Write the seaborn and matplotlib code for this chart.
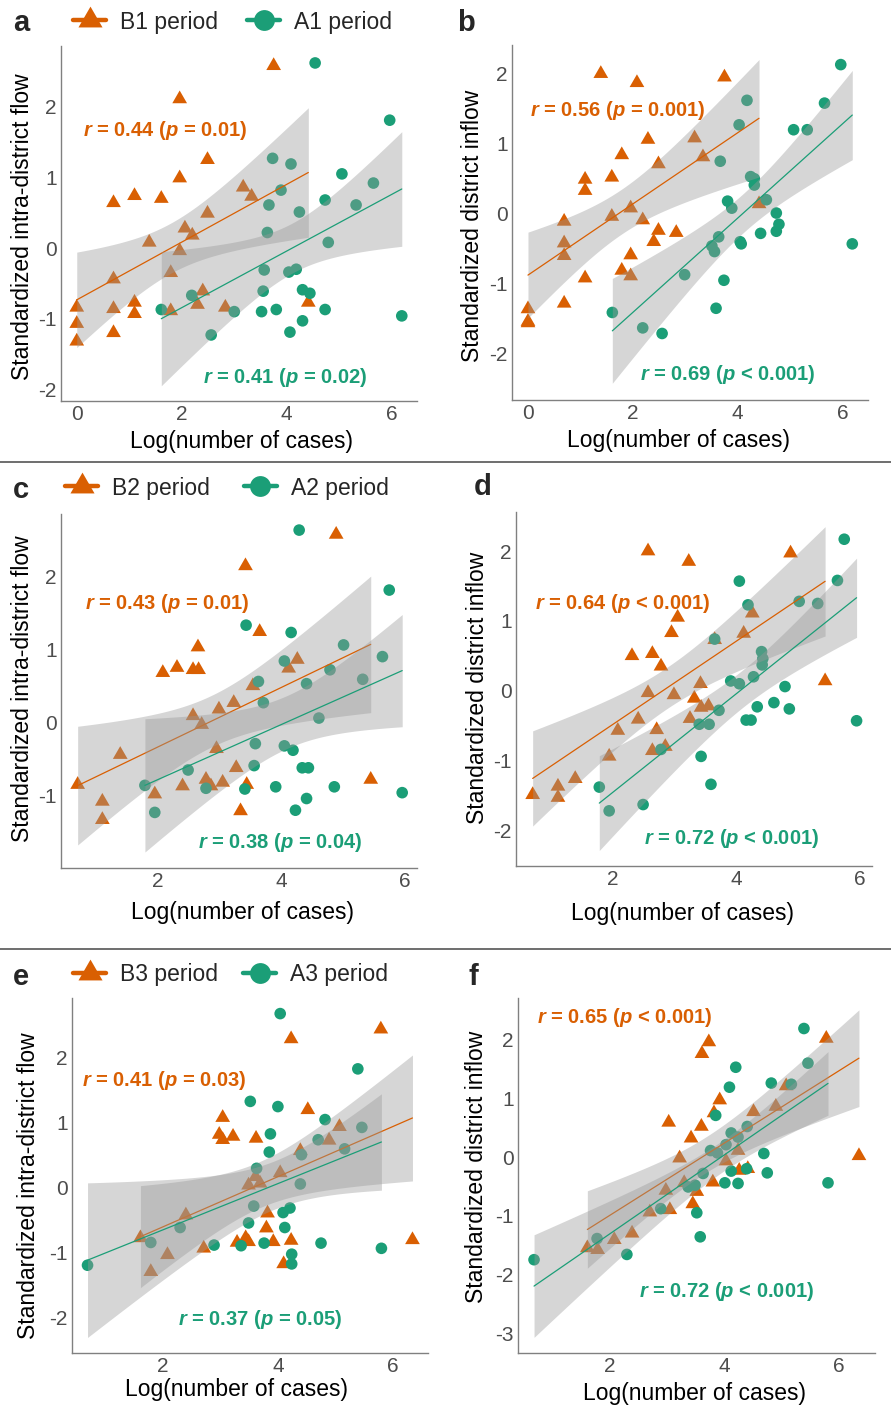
import numpy as np
import pandas as pd
import matplotlib
matplotlib.use("Agg")
import matplotlib.pyplot as plt
import seaborn as sns
from matplotlib.lines import Line2D

# ---------------- data ----------------
# panel a : intra-district flow, B1 / A1
a_b_x = [3.75, 1.96, 2.49, 1.96, 0.70, 1.10, 1.61, 3.17, 3.33, 2.49, 2.06, 2.20, 1.38, 1.96, 1.79, 0.70, 0.00, 0.00, 0.00, 0.70, 0.70, 1.10, 1.10, 1.79, 2.40, 2.30, 2.83, 4.41]
a_b_y = [2.58, 2.11, 1.25, 0.99, 0.64, 0.74, 0.70, 0.86, 0.73, 0.49, 0.28, 0.18, 0.08, -0.04, -0.35, -0.44, -0.84, -1.07, -1.32, -0.86, -1.20, -0.77, -0.93, -0.89, -0.61, -0.80, -0.84, -0.77]
a_a_x = [4.54, 5.96, 3.73, 4.08, 5.05, 3.89, 5.65, 4.73, 3.66, 5.32, 4.24, 3.63, 4.79, 3.57, 4.04, 4.18, 3.55, 4.30, 4.44, 2.19, 1.61, 3.00, 3.52, 3.80, 4.73, 4.30, 4.06, 2.56, 6.19]
a_a_y = [2.62, 1.81, 1.27, 1.19, 1.05, 0.82, 0.92, 0.68, 0.61, 0.61, 0.51, 0.22, 0.08, -0.31, -0.34, -0.30, -0.61, -0.59, -0.64, -0.67, -0.87, -0.90, -0.90, -0.87, -0.87, -1.03, -1.19, -1.23, -0.96]
# panel b : district inflow, B1 / A1
b_b_x = [1.39, 2.08, 3.75, 2.29, 3.18, 1.79, 3.34, 2.49, 1.09, 1.09, 1.60, 1.96, 1.60, 0.69, 2.19, 2.49, 2.83, 2.40, 0.69, 0.69, 1.96, 1.79, 1.96, 1.09, 0.69, 0.00, 0.00, 0.00, 4.41]
b_b_y = [1.99, 1.86, 1.94, 1.05, 1.07, 0.83, 0.80, 0.70, 0.48, 0.32, 0.51, 0.07, -0.05, -0.12, -0.10, -0.25, -0.28, -0.41, -0.43, -0.61, -0.60, -0.82, -0.90, -0.93, -1.29, -1.37, -1.55, -1.57, 0.13]
b_a_x = [5.97, 5.66, 4.18, 4.03, 5.07, 5.33, 3.67, 4.25, 4.32, 4.32, 4.55, 3.81, 3.89, 4.74, 4.79, 4.74, 4.44, 3.64, 4.05, 4.07, 3.51, 3.56, 6.19, 2.99, 3.74, 3.59, 1.61, 2.19, 2.56]
b_a_y = [2.12, 1.57, 1.61, 1.26, 1.19, 1.19, 0.74, 0.52, 0.40, 0.49, 0.19, 0.17, 0.07, 0.00, -0.16, -0.26, -0.29, -0.34, -0.41, -0.44, -0.47, -0.55, -0.44, -0.88, -0.96, -1.36, -1.42, -1.64, -1.72]
# panel c : intra-district flow, B2 / A2
c_b_x = [4.89, 3.42, 3.65, 2.65, 2.08, 2.31, 2.57, 2.66, 4.26, 4.12, 3.54, 3.23, 2.99, 2.57, 2.71, 1.39, 2.95, 3.27, 0.70, 1.10, 1.10, 1.95, 2.40, 2.78, 2.86, 3.05, 3.44, 3.34, 5.45]
c_b_y = [2.57, 2.14, 1.24, 1.03, 0.68, 0.75, 0.72, 0.72, 0.86, 0.74, 0.50, 0.27, 0.18, 0.09, -0.03, -0.44, -0.36, -0.62, -0.85, -1.08, -1.33, -0.98, -0.87, -0.78, -0.87, -0.82, -0.85, -1.21, -0.78]
c_a_x = [4.29, 5.75, 3.43, 4.16, 5.01, 4.05, 5.64, 4.79, 3.63, 4.41, 5.32, 3.71, 4.61, 3.58, 4.05, 4.19, 3.56, 4.34, 4.44, 2.49, 1.79, 2.78, 3.41, 3.91, 4.86, 4.41, 4.23, 1.95, 5.96]
c_a_y = [2.63, 1.81, 1.33, 1.23, 1.06, 0.84, 0.90, 0.72, 0.56, 0.53, 0.59, 0.27, 0.06, -0.29, -0.32, -0.38, -0.59, -0.62, -0.62, -0.65, -0.86, -0.90, -0.91, -0.88, -0.88, -1.04, -1.20, -1.23, -0.96]
# panel d : district inflow, B2 / A2
d_b_x = [2.57, 3.23, 4.88, 3.05, 4.26, 2.95, 4.12, 3.65, 2.31, 2.64, 2.78, 3.42, 5.44, 2.57, 2.99, 3.32, 3.43, 3.55, 2.41, 3.25, 2.08, 2.71, 2.85, 2.64, 1.94, 1.39, 1.11, 1.11, 0.70]
d_b_y = [2.00, 1.85, 1.97, 1.05, 1.11, 0.83, 0.82, 0.73, 0.50, 0.53, 0.35, 0.10, 0.14, -0.03, -0.06, -0.11, -0.24, -0.22, -0.41, -0.40, -0.57, -0.56, -0.80, -0.86, -0.94, -1.26, -1.37, -1.53, -1.49]
d_a_x = [5.75, 5.64, 4.05, 4.19, 5.02, 5.32, 3.65, 4.41, 4.43, 4.42, 4.28, 3.91, 4.05, 4.79, 4.61, 4.34, 4.86, 3.72, 4.16, 4.24, 3.40, 3.56, 5.95, 2.78, 3.43, 3.59, 1.78, 2.49, 1.94]
d_a_y = [2.17, 1.58, 1.57, 1.23, 1.28, 1.25, 0.74, 0.56, 0.46, 0.37, 0.20, 0.14, 0.10, 0.06, -0.17, -0.23, -0.26, -0.28, -0.42, -0.42, -0.48, -0.48, -0.43, -0.84, -0.94, -1.34, -1.38, -1.63, -1.72]
# panel e : intra-district flow, B3 / A3
e_b_x = [5.79, 4.23, 4.52, 3.04, 2.98, 3.04, 3.22, 3.62, 5.07, 4.89, 4.39, 4.04, 3.61, 3.49, 3.69, 2.40, 3.82, 3.80, 1.61, 2.08, 1.79, 2.71, 3.29, 3.44, 3.49, 3.92, 4.23, 4.10, 6.34]
e_b_y = [2.43, 2.28, 1.19, 1.07, 0.81, 0.73, 0.78, 0.75, 0.93, 0.72, 0.56, 0.22, 0.16, 0.03, 0.06, -0.43, -0.40, -0.63, -0.78, -1.04, -1.30, -0.94, -0.85, -0.78, -0.84, -0.84, -0.82, -1.18, -0.81]
e_a_x = [4.04, 5.39, 3.52, 4.00, 4.82, 3.87, 3.85, 4.70, 5.46, 5.16, 4.41, 3.63, 4.39, 3.58, 4.09, 4.21, 3.49, 4.12, 2.30, 1.79, 2.89, 3.36, 3.76, 4.75, 4.24, 4.24, 0.69, 5.80]
e_a_y = [2.67, 1.82, 1.32, 1.24, 1.04, 0.82, 0.54, 0.73, 0.92, 0.59, 0.50, 0.29, 0.05, -0.29, -0.39, -0.32, -0.55, -0.62, -0.62, -0.85, -0.89, -0.90, -0.86, -0.86, -1.03, -1.18, -1.20, -0.94]
# panel f : district inflow, B3 / A3
f_b_x = [5.78, 3.73, 3.61, 6.35, 3.92, 3.82, 3.03, 3.60, 3.42, 4.51, 4.90, 5.08, 4.24, 3.22, 4.03, 4.26, 4.41, 3.30, 3.80, 3.52, 2.98, 3.45, 3.05, 2.70, 2.39, 2.08, 1.61, 1.79]
f_b_y = [2.02, 1.96, 1.76, 0.02, 0.97, 0.75, 0.59, 0.52, 0.32, 0.77, 0.86, 1.21, 0.11, -0.02, -0.07, -0.23, -0.20, -0.44, -0.43, -0.59, -0.57, -0.80, -0.90, -0.94, -1.30, -1.41, -1.55, -1.58]
f_a_x = [5.39, 5.46, 4.20, 4.09, 4.82, 5.17, 3.85, 4.40, 4.12, 4.24, 4.03, 3.76, 3.88, 4.69, 4.12, 4.39, 4.75, 3.63, 4.01, 4.24, 3.37, 3.49, 5.81, 2.89, 3.52, 3.58, 1.78, 2.30, 0.68]
f_a_y = [2.19, 1.60, 1.53, 1.19, 1.26, 1.24, 0.71, 0.52, 0.41, 0.34, 0.21, 0.11, 0.07, 0.06, -0.24, -0.20, -0.27, -0.28, -0.44, -0.45, -0.51, -0.48, -0.44, -0.88, -0.95, -1.36, -1.39, -1.66, -1.75]

panel_letters = ["a", "b", "c", "d", "e", "f"]
b_labels = ["B1 period", "B2 period", "B3 period"]
a_labels = ["A1 period", "A2 period", "A3 period"]
y_titles = ["Standardized intra-district flow", "Standardized district inflow"]
x_title = "Log(number of cases)"
b_stats = ["0.44 ($\\mathit{p}$ = 0.01)", "0.56 ($\\mathit{p}$ = 0.001)",
           "0.43 ($\\mathit{p}$ = 0.01)", "0.64 ($\\mathit{p}$ < 0.001)",
           "0.41 ($\\mathit{p}$ = 0.03)", "0.65 ($\\mathit{p}$ < 0.001)"]
a_stats = ["0.41 ($\\mathit{p}$ = 0.02)", "0.69 ($\\mathit{p}$ < 0.001)",
           "0.38 ($\\mathit{p}$ = 0.04)", "0.72 ($\\mathit{p}$ < 0.001)",
           "0.37 ($\\mathit{p}$ = 0.05)", "0.72 ($\\mathit{p}$ < 0.001)"]

# ---------------- style ----------------
sns.set_theme(style="white")
plt.rcParams['font.family'] = ['Liberation Sans', 'DejaVu Sans']
plt.rcParams['mathtext.fontset'] = 'custom'
plt.rcParams['mathtext.it'] = 'Liberation Sans:italic:bold'
plt.rcParams['mathtext.rm'] = 'Liberation Sans:bold'
plt.rcParams['mathtext.bf'] = 'Liberation Sans:bold'

ORANGE = '#D95F02'
GREEN = '#1B9E77'
TRI = [(0, 1), (-0.866, -0.5), (0.866, -0.5)]

W, H = 891, 1407
fig = plt.figure(figsize=(W / 100, H / 100), dpi=100)

# layout: (left, right, top, bottom) pixels, xlim, ylim, yticks, annotation positions, label coords
layout = [
    dict(box=(61, 417, 46, 401), xlim=(-0.30, 6.48), ylim=(-2.165, 2.86), yt=[-2, -1, 0, 1, 2], xt=[0, 2, 4, 6],
         tb=(0.12, 1.66), ta=(2.41, -1.83), xl=(0.508, -0.115), yl=(-0.107, 0.49)),
    dict(box=(512, 868, 45, 400), xlim=(-0.305, 6.49), ylim=(-2.67, 2.40), yt=[-2, -1, 0, 1, 2], xt=[0, 2, 4, 6],
         tb=(0.04, 1.46), ta=(2.14, -2.31), xl=(0.468, -0.113), yl=(-0.11, 0.49)),
    dict(box=(61, 417, 514, 868), xlim=(0.43, 6.2), ylim=(-1.99, 2.85), yt=[-1, 0, 1, 2], xt=[2, 4, 6],
         tb=(0.82, 1.63), ta=(2.65, -1.645), xl=(0.51, -0.127), yl=(-0.107, 0.506)),
    dict(box=(516, 872, 512, 866), xlim=(0.43, 6.2), ylim=(-2.51, 2.56), yt=[-2, -1, 0, 1, 2], xt=[2, 4, 6],
         tb=(0.74, 1.25), ta=(2.51, -2.12), xl=(0.468, -0.133), yl=(-0.108, 0.503)),
    dict(box=(72, 428, 998, 1353), xlim=(0.42, 6.61), ylim=(-2.55, 2.91), yt=[-2, -1, 0, 1, 2], xt=[2, 4, 6],
         tb=(0.60, 1.64), ta=(2.27, -2.04), xl=(0.463, -0.104), yl=(-0.121, 0.47)),
    dict(box=(518, 875, 998, 1353), xlim=(0.40, 6.63), ylim=(-3.34, 2.71), yt=[-3, -2, -1, 0, 1, 2], xt=[2, 4, 6],
         tb=(0.74, 2.37), ta=(2.51, -2.29), xl=(0.493, -0.113), yl=(-0.115, 0.524)),
]

data = [
    (a_b_x, a_b_y, a_a_x, a_a_y), (b_b_x, b_b_y, b_a_x, b_a_y),
    (c_b_x, c_b_y, c_a_x, c_a_y), (d_b_x, d_b_y, d_a_x, d_a_y),
    (e_b_x, e_b_y, e_a_x, e_a_y), (f_b_x, f_b_y, f_a_x, f_a_y),
]


def tcrit(df):
    z = 1.959964
    g1 = (z ** 3 + z) / 4
    g2 = (5 * z ** 5 + 16 * z ** 3 + 3 * z) / 96
    g3 = (3 * z ** 7 + 19 * z ** 5 + 17 * z ** 3 - 15 * z) / 384
    return z + g1 / df + g2 / df ** 2 + g3 / df ** 3


def band(x, y):
    x = np.asarray(x, float)
    y = np.asarray(y, float)
    b1, b0 = np.polyfit(x, y, 1)
    xs = np.linspace(x.min(), x.max(), 120)
    yhat = b0 + b1 * xs
    res = y - (b0 + b1 * x)
    n = len(x)
    s = np.sqrt((res ** 2).sum() / (n - 2))
    se = s * np.sqrt(1 / n + (xs - x.mean()) ** 2 / ((x - x.mean()) ** 2).sum())
    t = tcrit(n - 2)
    return xs, yhat - t * se, yhat + t * se


for i, (lay, (bx, by, ax_, ay)) in enumerate(zip(layout, data)):
    l, r, t, b = lay['box']
    ax = fig.add_axes([l / W, 1 - b / H, (r - l) / W, (b - t) / H])
    dfb = pd.DataFrame({'x': bx, 'y': by})
    dfa = pd.DataFrame({'x': ax_, 'y': ay})
    sns.scatterplot(data=dfb, x='x', y='y', ax=ax, color=ORANGE, marker=TRI, s=150,
                    linewidth=0, edgecolor='none', zorder=2)
    sns.scatterplot(data=dfa, x='x', y='y', ax=ax, color=GREEN, marker='o', s=70,
                    linewidth=0, edgecolor='none', zorder=2)
    z = 3
    for (gx, gy, col) in [(bx, by, ORANGE), (ax_, ay, GREEN)]:
        xs, lo, hi = band(gx, gy)
        ax.fill_between(xs, lo, hi, color='#999999', alpha=0.4, linewidth=0, zorder=z)
        sns.regplot(x=np.asarray(gx), y=np.asarray(gy), ax=ax, scatter=False, ci=None, truncate=True,
                    color=col, line_kws=dict(lw=0.9, zorder=z + 1))
        z += 2
    ax.set_xlim(*lay['xlim'])
    ax.set_ylim(*lay['ylim'])
    ax.set_xticks(lay['xt'])
    ax.set_yticks(lay['yt'])
    ax.set_xticklabels([str(v) for v in lay['xt']])
    ax.set_yticklabels([str(v) for v in lay['yt']])
    ax.tick_params(axis='both', length=0, labelsize=15, labelcolor='#4D4D4D', pad=3)
    for sp in ['top', 'right']:
        ax.spines[sp].set_visible(False)
    for sp in ['left', 'bottom']:
        ax.spines[sp].set_color('#808080')
        ax.spines[sp].set_linewidth(1.0)
    ax.set_xlabel(x_title, fontsize=16.5, color='black')
    ax.set_ylabel(y_titles[i % 2], fontsize=16.5, color='black')
    ax.xaxis.set_label_coords(*lay['xl'])
    ax.yaxis.set_label_coords(*lay['yl'])
    ax.xaxis.label.set_va('center')
    ax.yaxis.label.set_va('center')
    ax.grid(False)
    ax.set_facecolor('none')
    ax.text(lay['tb'][0], lay['tb'][1], "$\\mathit{r}$ = " + b_stats[i], color=ORANGE, fontsize=14.5,
            fontweight='bold', ha='left', va='center', zorder=10)
    ax.text(lay['ta'][0], lay['ta'][1], "$\\mathit{r}$ = " + a_stats[i], color=GREEN, fontsize=14.5,
            fontweight='bold', ha='left', va='center', zorder=10)

# panel letters
letter_pos = [(21, 23), (466, 23), (21, 490), (483, 487), (21, 977), (473, 977)]
for letter, (px, py) in zip(panel_letters, letter_pos):
    fig.text(px / W, 1 - py / H, letter, fontsize=21, fontweight='bold', ha='center', va='center')

# legends
leg_rows = [(73, 22, 29), (65, 488, 34), (73, 975, 25)]
for k, (lx, ly, cs) in enumerate(leg_rows):
    h1 = Line2D([], [], color=ORANGE, lw=3.2, marker=TRI, markersize=20, markeredgewidth=0)
    h2 = Line2D([], [], color=GREEN, lw=3.2, marker='o', markersize=15, markeredgewidth=0)
    fig.legend([h1, h2], [b_labels[k], a_labels[k]], loc='center left',
               bbox_to_anchor=(lx / W, 1 - ly / H), ncol=2, frameon=False, fontsize=16.5,
               handlelength=1.45, handletextpad=0.6, columnspacing=cs / 22.9,
               borderpad=0, borderaxespad=0)

# separator lines
for yy in [462, 949]:
    fig.add_artist(Line2D([0, 1], [1 - yy / H, 1 - yy / H], color='#555555', lw=1.2))

fig.savefig('out.png', dpi=100)
